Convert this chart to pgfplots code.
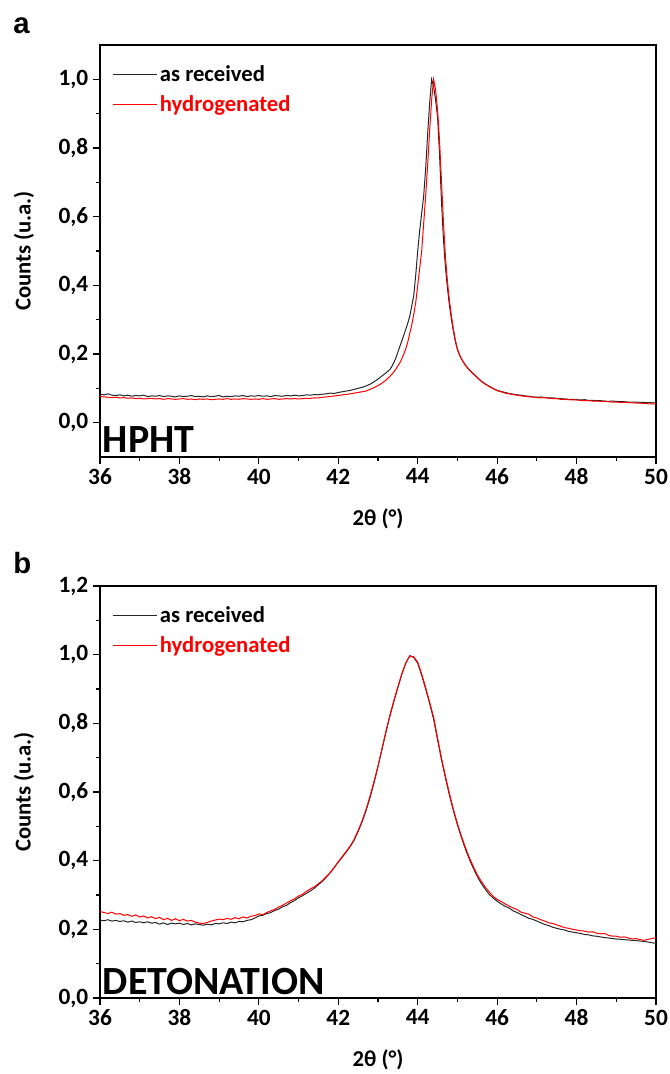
\documentclass[border=0pt]{standalone}
\usepackage{pgfplots}
\usepackage{pgfplotstable}
\pgfplotsset{compat=1.18}
\usepackage{fontspec}
\setmainfont{Carlito}
\newfontfamily\letterfont{Liberation Sans}

% panel a: HPHT, columns x / as received / hydrogenated
\pgfplotstableread{
x k r
36.0 0.083 0.076
36.1 0.081 0.075
36.2 0.084 0.074
36.3 0.080 0.073
36.4 0.079 0.074
36.5 0.081 0.072
36.6 0.078 0.073
36.7 0.080 0.071
36.8 0.077 0.072
36.9 0.079 0.070
37.0 0.078 0.071
37.1 0.080 0.069
37.2 0.076 0.070
37.3 0.078 0.071
37.4 0.077 0.069
37.5 0.079 0.070
37.6 0.076 0.068
37.7 0.078 0.070
37.8 0.077 0.069
37.9 0.075 0.068
38.0 0.078 0.069
38.1 0.076 0.070
38.2 0.077 0.068
38.3 0.079 0.069
38.4 0.076 0.067
38.5 0.077 0.069
38.6 0.075 0.068
38.7 0.078 0.069
38.8 0.076 0.067
38.9 0.077 0.068
39.0 0.079 0.069
39.1 0.075 0.068
39.2 0.077 0.070
39.3 0.076 0.068
39.4 0.078 0.069
39.5 0.077 0.068
39.6 0.079 0.070
39.7 0.076 0.069
39.8 0.078 0.068
39.9 0.077 0.069
40.0 0.079 0.068
40.1 0.077 0.070
40.2 0.078 0.068
40.3 0.076 0.069
40.4 0.079 0.070
40.5 0.078 0.068
40.6 0.077 0.069
40.7 0.079 0.070
40.8 0.078 0.069
40.9 0.080 0.070
41.0 0.078 0.069
41.1 0.079 0.070
41.2 0.081 0.071
41.3 0.080 0.071
41.4 0.082 0.072
41.5 0.081 0.072
41.6 0.083 0.074
41.7 0.084 0.075
41.8 0.086 0.076
41.9 0.085 0.078
42.0 0.088 0.079
42.1 0.090 0.081
42.2 0.092 0.082
42.3 0.094 0.084
42.4 0.097 0.086
42.5 0.100 0.088
42.6 0.103 0.090
42.7 0.107 0.092
42.8 0.112 0.097
42.9 0.119 0.102
43.0 0.127 0.108
43.1 0.136 0.115
43.2 0.145 0.124
43.3 0.155 0.135
43.35 0.164 0.141
43.4 0.175 0.148
43.45 0.188 0.156
43.5 0.205 0.165
43.55 0.222 0.174
43.6 0.238 0.186
43.65 0.255 0.200
43.7 0.272 0.215
43.75 0.290 0.235
43.8 0.310 0.260
43.85 0.340 0.285
43.9 0.370 0.315
43.95 0.430 0.350
44.0 0.500 0.400
44.05 0.560 0.450
44.1 0.610 0.500
44.15 0.660 0.580
44.2 0.740 0.660
44.25 0.840 0.750
44.3 0.930 0.850
44.35 1.000 0.940
44.4 0.980 1.000
44.45 0.940 0.970
44.5 0.890 0.910
44.55 0.780 0.820
44.6 0.640 0.700
44.65 0.530 0.580
44.7 0.450 0.480
44.75 0.390 0.410
44.8 0.340 0.355
44.85 0.300 0.310
44.9 0.265 0.272
44.95 0.235 0.240
45.0 0.212 0.215
45.05 0.198 0.199
45.1 0.186 0.186
45.15 0.177 0.176
45.2 0.168 0.167
45.25 0.161 0.160
45.3 0.154 0.153
45.4 0.143 0.142
45.5 0.132 0.131
45.6 0.121 0.120
45.7 0.113 0.112
45.8 0.106 0.105
45.9 0.100 0.099
46.0 0.094 0.093
46.1 0.091 0.090
46.2 0.088 0.086
46.3 0.085 0.084
46.4 0.083 0.082
46.5 0.081 0.080
46.6 0.080 0.078
46.7 0.078 0.077
46.8 0.077 0.075
46.9 0.075 0.075
47.0 0.074 0.073
47.1 0.075 0.072
47.2 0.073 0.073
47.3 0.072 0.071
47.4 0.072 0.070
47.5 0.071 0.070
47.6 0.070 0.068
47.7 0.069 0.068
47.8 0.068 0.067
47.9 0.068 0.066
48.0 0.067 0.066
48.1 0.066 0.065
48.2 0.067 0.064
48.3 0.065 0.064
48.4 0.065 0.063
48.5 0.064 0.063
48.6 0.064 0.062
48.7 0.063 0.062
48.8 0.062 0.061
48.9 0.063 0.060
49.0 0.062 0.060
49.1 0.061 0.059
49.2 0.061 0.059
49.3 0.060 0.058
49.4 0.060 0.058
49.5 0.060 0.057
49.6 0.059 0.057
49.7 0.059 0.056
49.8 0.058 0.055
49.9 0.058 0.055
50.0 0.057 0.055
}\tabA

% panel b: detonation
\pgfplotstableread{
x k r
36.0 0.227 0.252
36.1 0.225 0.249
36.2 0.228 0.246
36.3 0.224 0.250
36.4 0.226 0.244
36.5 0.223 0.246
36.6 0.225 0.241
36.7 0.221 0.243
36.8 0.224 0.238
36.9 0.220 0.242
37.0 0.222 0.236
37.1 0.219 0.239
37.2 0.222 0.233
37.3 0.218 0.237
37.4 0.220 0.231
37.5 0.215 0.235
37.6 0.219 0.228
37.7 0.214 0.232
37.8 0.218 0.226
37.9 0.216 0.231
38.0 0.218 0.225
38.1 0.214 0.229
38.2 0.217 0.224
38.3 0.213 0.226
38.4 0.216 0.221
38.5 0.214 0.218
38.6 0.212 0.217
38.7 0.215 0.220
38.8 0.213 0.224
38.9 0.217 0.227
39.0 0.216 0.230
39.1 0.219 0.228
39.2 0.217 0.232
39.3 0.221 0.229
39.4 0.219 0.234
39.5 0.223 0.231
39.6 0.222 0.236
39.7 0.226 0.233
39.8 0.228 0.238
39.9 0.233 0.240
40.0 0.239 0.245
40.1 0.241 0.243
40.2 0.246 0.249
40.3 0.249 0.254
40.4 0.255 0.258
40.5 0.259 0.265
40.6 0.266 0.270
40.7 0.270 0.277
40.8 0.278 0.283
40.9 0.284 0.289
41.0 0.292 0.297
41.1 0.298 0.302
41.2 0.305 0.311
41.3 0.312 0.318
41.4 0.320 0.324
41.5 0.330 0.333
41.6 0.340 0.342
41.7 0.352 0.354
41.8 0.365 0.366
41.9 0.380 0.381
42.0 0.396 0.397
42.1 0.410 0.412
42.2 0.425 0.427
42.3 0.441 0.443
42.4 0.460 0.462
42.5 0.485 0.488
42.6 0.513 0.516
42.7 0.546 0.550
42.8 0.584 0.588
42.9 0.627 0.631
43.0 0.674 0.676
43.1 0.724 0.726
43.2 0.774 0.777
43.3 0.821 0.824
43.4 0.864 0.867
43.5 0.904 0.906
43.6 0.943 0.944
43.7 0.975 0.976
43.8 0.997 0.996
43.9 0.992 0.994
44.0 0.975 0.978
44.1 0.940 0.944
44.2 0.900 0.904
44.3 0.858 0.862
44.4 0.812 0.818
44.5 0.752 0.757
44.6 0.693 0.698
44.7 0.640 0.645
44.8 0.590 0.595
44.9 0.545 0.549
45.0 0.504 0.508
45.1 0.468 0.472
45.2 0.434 0.439
45.3 0.404 0.409
45.4 0.378 0.383
45.5 0.354 0.359
45.6 0.334 0.340
45.7 0.317 0.323
45.8 0.302 0.309
45.9 0.291 0.296
46.0 0.282 0.287
46.1 0.274 0.281
46.2 0.267 0.274
46.3 0.262 0.268
46.4 0.254 0.262
46.5 0.249 0.258
46.6 0.243 0.250
46.7 0.238 0.247
46.8 0.232 0.244
46.9 0.229 0.236
47.0 0.224 0.233
47.1 0.219 0.228
47.2 0.214 0.224
47.3 0.211 0.219
47.4 0.206 0.217
47.5 0.203 0.213
47.6 0.200 0.209
47.7 0.198 0.205
47.8 0.194 0.203
47.9 0.192 0.200
48.0 0.190 0.198
48.1 0.188 0.196
48.2 0.185 0.195
48.3 0.184 0.192
48.4 0.181 0.193
48.5 0.180 0.189
48.6 0.178 0.187
48.7 0.176 0.188
48.8 0.175 0.183
48.9 0.173 0.180
49.0 0.172 0.180
49.1 0.171 0.177
49.2 0.170 0.178
49.3 0.169 0.175
49.4 0.168 0.172
49.5 0.167 0.173
49.6 0.166 0.170
49.7 0.165 0.168
49.8 0.163 0.171
49.9 0.161 0.173
50.0 0.159 0.176
}\tabB

\pgfplotsset{
  xrd/.style={
    scale only axis,
    width=417pt, height=309pt,
    xmin=36, xmax=50,
    xtick={36,38,...,50},
    minor x tick num=1,
    minor y tick num=1,
    xtick pos=bottom, ytick pos=left,
    tick align=outside,
    major tick length=5.25pt,
    minor tick length=3pt,
    axis line style={line width=0.9pt},
    every tick/.style={black, line width=0.8pt},
    /pgf/number format/assume math mode=true,
    tick label style={font=\fontsize{17.5}{20}\selectfont\bfseries},
    label style={font=\fontsize{17}{20}\selectfont\bfseries},
    yticklabel style={/pgf/number format/.cd, fixed, fixed zerofill, precision=1, use comma},
    xlabel={2θ (°)},
    ylabel={Counts (u.a.)},
    xlabel style={at={([yshift=-46pt]axis description cs:0.5,0)}, anchor=center},
    ylabel style={at={([xshift=-57pt]axis description cs:0,0.5)}, anchor=center},
    legend cell align=left,
    legend image code/.code={\draw[##1,line width=0.75pt] (0pt,0pt) -- (33pt,0pt);},
    legend style={at={([xshift=9pt,yshift=-13pt]axis description cs:0,1)},
      anchor=north west, draw=none, fill=none, inner sep=0pt, row sep=5.5pt,
      font=\fontsize{17}{20}\selectfont\bfseries},
  }
}

\begin{document}
\begin{tikzpicture}
\path[use as bounding box] (-75pt,-57pt) rectangle (427.5pt,748.5pt);

\begin{axis}[xrd, name=pa, at={(0,405.75pt)}, anchor=south west,
  ymin=-0.1, ymax=1.1, ytick={0,0.2,0.4,0.6,0.8,1.0}]
\addplot[black!85, line width=0.75pt] table[x=x,y=k]{\tabA};
\addlegendentry{as received}
\addplot[red, line width=0.75pt] table[x=x,y=r]{\tabA};
\addlegendentry{\textcolor{red}{hydrogenated}}
\node[anchor=base west, inner sep=0pt, font=\fontsize{30}{34}\selectfont\bfseries]
  at ([xshift=2pt,yshift=3pt]rel axis cs:0,0) {HPHT};
\end{axis}
\node[anchor=base west, inner sep=0pt, font=\fontsize{22}{26}\selectfont\bfseries\letterfont]
  at ([xshift=-65.25pt,yshift=8.25pt]pa.north west) {a};

\begin{axis}[xrd, name=pb, at={(0,0)}, anchor=south west,
  ymin=0, ymax=1.2, ytick={0,0.2,0.4,0.6,0.8,1.0,1.2}]
\addplot[black!85, line width=0.75pt] table[x=x,y=k]{\tabB};
\addlegendentry{as received}
\addplot[red, line width=0.75pt] table[x=x,y=r]{\tabB};
\addlegendentry{\textcolor{red}{hydrogenated}}
\node[anchor=base west, inner sep=0pt, font=\fontsize{30}{34}\selectfont\bfseries]
  at ([xshift=2pt,yshift=2.25pt]rel axis cs:0,0) {DETONATION};
\end{axis}
\node[anchor=base west, inner sep=0pt, font=\fontsize{22}{26}\selectfont\bfseries\letterfont]
  at ([xshift=-65.25pt,yshift=9pt]pb.north west) {b};
\end{tikzpicture}
\end{document}
